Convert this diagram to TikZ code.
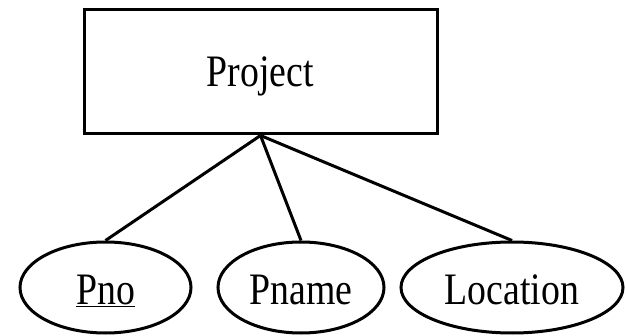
\documentclass[tikz,border=0pt]{standalone}
\usepackage{fontspec}
\usetikzlibrary{shapes.geometric}
\setmainfont[FakeStretch=0.84]{Liberation Serif}
\begin{document}
\begin{tikzpicture}[x=1pt, y=-1pt,
  every node/.style={font=\fontsize{45}{54}\selectfont, inner sep=0pt},
  entity/.style={draw, line width=3pt, rectangle, minimum width=353pt,
    minimum height=124pt, text height=30pt, text depth=0pt},
  attr/.style={draw, line width=3pt, ellipse, minimum height=91pt,
    text height=34pt, text depth=0pt},
  link/.style={line width=3pt}]
  \useasboundingbox (0,0) rectangle (626,336);
  \node[entity] (proj) at (260.5,72) {Project};
  \node[attr, minimum width=171pt] (pno) at (105.5,287.5) {\underline{Pno}};
  \node[attr, minimum width=166pt] (pname) at (301,287.5) {Pname};
  \node[attr, minimum width=222pt] (loc) at (512,287.5) {Location};
  \draw[link] (proj.south) -- (pno.north);
  \draw[link] (proj.south) -- (pname.north);
  \draw[link] (proj.south) -- (loc.north);
\end{tikzpicture}
\end{document}
